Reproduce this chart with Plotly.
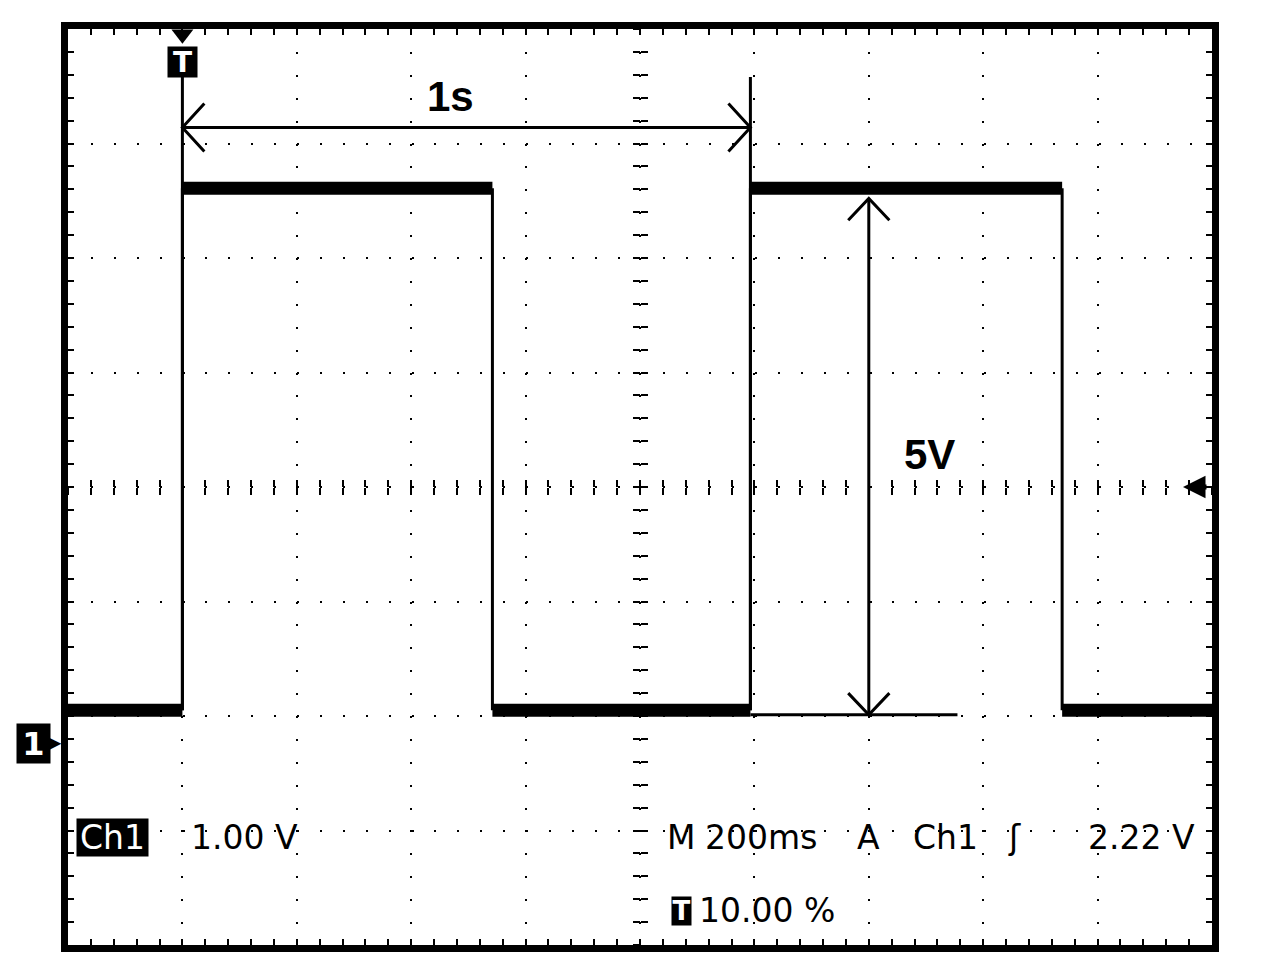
import plotly.graph_objects as go

time_per_div_s = 0.2
volt_per_div = 1.0
trigger_level_v = 2.22
time_window_s = [-0.2, 1.8]
volt_window_v = [trigger_level_v - 4 * volt_per_div, trigger_level_v + 4 * volt_per_div]

edge_times_s = [0.0, 0.542, 0.993, 1.538]
low_level_v = 0.27
high_level_v = 4.83

cursor_times_s = [0.0, 0.993]
cursor_top_v = 5.80
period_arrow_v = 5.36
period_label = "1s"
amp_arrow_t_s = 1.2
amp_arrow_span_v = [0.23, 4.74]
amp_base_end_s = 1.355
amp_label = "5V"

ch_label = "Ch1"
ch_scale_label = "1.00 V"
status_words = ["M", "200ms", "A", "Ch1", "ʃ", "2.22 V"]
trigger_pos_label = "10.00 %"

# ---------------- geometry helpers ----------------
PX_L, PX_R, PX_T, PX_B = 68, 1212, 29, 945
PAGE_OFF = 8  # default body margin


def px(x):
    return (x - PX_L) / (PX_R - PX_L)


def py(y):
    return (PX_B - y) / (PX_B - PX_T)


# waveform levels
bounds = [time_window_s[0]] + edge_times_s + [time_window_s[1]]
seg_x, seg_y = [], []
level = low_level_v
for i in range(len(bounds) - 1):
    seg_x += [bounds[i], bounds[i + 1], None]
    seg_y += [level, level, None]
    level = high_level_v if level == low_level_v else low_level_v

edge_x, edge_y = [], []
for t in edge_times_s:
    edge_x += [t, t, None]
    edge_y += [low_level_v, high_level_v, None]

cur_x, cur_y = [], []
for t in cursor_times_s:
    cur_x += [t, t, None]
    cur_y += [cursor_top_v, low_level_v, None]

# measurement arrows
t0, t1 = cursor_times_s
dxs = 0.0384
dyv = 0.21
meas_x = [t0, t1, None,
          t0 + dxs, t0, t0 + dxs, None,
          t1 - dxs, t1, t1 - dxs, None]
meas_y = [period_arrow_v, period_arrow_v, None,
          period_arrow_v + dyv, period_arrow_v, period_arrow_v - dyv, None,
          period_arrow_v + dyv, period_arrow_v, period_arrow_v - dyv, None]
va, vb = amp_arrow_span_v
dxa = 0.036
dya = 0.19
meas_x += [amp_arrow_t_s, amp_arrow_t_s, None,
           amp_arrow_t_s - dxa, amp_arrow_t_s, amp_arrow_t_s + dxa, None,
           amp_arrow_t_s - dxa, amp_arrow_t_s, amp_arrow_t_s + dxa, None,
           t1, amp_base_end_s, None]
meas_y += [va, vb, None,
           vb - dya, vb, vb - dya, None,
           va + dya, va, va + dya, None,
           va, va, None]

fig = go.Figure()
fig.add_trace(go.Scatter(x=seg_x, y=seg_y, mode="lines",
                         line=dict(color="black", width=13), hoverinfo="skip"))
fig.add_trace(go.Scatter(x=edge_x, y=edge_y, mode="lines",
                         line=dict(color="black", width=3), hoverinfo="skip"))
fig.add_trace(go.Scatter(x=cur_x, y=cur_y, mode="lines",
                         line=dict(color="black", width=3), hoverinfo="skip"))
fig.add_trace(go.Scatter(x=meas_x, y=meas_y, mode="lines",
                         line=dict(color="black", width=3), hoverinfo="skip"))
# trigger position marker (top)
fig.add_trace(go.Scatter(x=[edge_times_s[0]], y=[volt_window_v[1] - 0.045], mode="markers",
                         marker=dict(symbol="triangle-down", size=19, color="black"),
                         cliponaxis=False, hoverinfo="skip"))
# dummy traces for centre crosshair axes
fig.add_trace(go.Scatter(x=[None], y=[None], xaxis="x2", yaxis="y2", showlegend=False))
fig.add_trace(go.Scatter(x=[None], y=[None], xaxis="x3", yaxis="y3", showlegend=False))

common_grid = dict(showgrid=True, gridcolor="black", gridwidth=2, griddash="2px,20.9px",
                   showline=True, linewidth=7, linecolor="black", mirror="allticks",
                   ticks="inside", ticklen=6, tickwidth=2, tickcolor="black",
                   showticklabels=False, zeroline=False, fixedrange=True)

fig.update_layout(
    width=1264 - 2 * PAGE_OFF, height=974 - 2 * PAGE_OFF,
    margin=dict(l=PX_L - PAGE_OFF, r=1264 - PAGE_OFF - PX_R, t=PX_T - PAGE_OFF, b=974 - PAGE_OFF - PX_B),
    paper_bgcolor="white", plot_bgcolor="white", showlegend=False,
    xaxis=dict(range=time_window_s, dtick=time_per_div_s, tick0=time_window_s[0],
               minor=dict(dtick=time_per_div_s / 5, tick0=time_window_s[0], ticks="inside",
                          ticklen=6, tickwidth=2, tickcolor="black", showgrid=False),
               **common_grid),
    yaxis=dict(range=volt_window_v, dtick=volt_per_div, tick0=trigger_level_v,
               minor=dict(dtick=volt_per_div / 5, tick0=trigger_level_v, ticks="inside",
                          ticklen=6, tickwidth=2, tickcolor="black", showgrid=False),
               **common_grid),
)

center_common = dict(showgrid=False, showline=False, zeroline=False, showticklabels=False,
                     ticklen=7, tickwidth=2, tickcolor="black", fixedrange=True)
for name, tk in (("2", "outside"), ("3", "inside")):
    fig.update_layout(**{
        "xaxis" + name: dict(overlaying="x", anchor="free", position=0.5, range=time_window_s,
                             dtick=time_per_div_s / 5, tick0=time_window_s[0], ticks=tk,
                             **center_common),
        "yaxis" + name: dict(overlaying="y", anchor="free", position=0.5, range=volt_window_v,
                             dtick=volt_per_div / 5, tick0=trigger_level_v, ticks=tk,
                             **center_common),
    })

FAM = "DejaVu Sans, sans-serif"
big = dict(family="Liberation Sans, Arial, sans-serif", size=42, color="black")
scope = dict(family=FAM, size=33, color="black")
scope_inv = dict(family=FAM, size=33, color="white")


def txt(x_px, y_px, text, font, xanchor="left", **kw):
    return dict(x=px(x_px), y=py(y_px), xref="paper", yref="paper", xanchor=xanchor,
                yanchor="middle", text=text, showarrow=False, font=font, **kw)


ann = []
ann.append(dict(x=(t0 + t1) / 2 - 0.028, y=5.63, xref="x", yref="y", xanchor="center",
                yanchor="middle", text="<b>%s</b>" % period_label, showarrow=False, font=big))
ann.append(dict(x=1.306, y=2.50, xref="x", yref="y", xanchor="center", yanchor="middle",
                text="<b>%s</b>" % amp_label, showarrow=False, font=big))
# top trigger "T" badge
ann.append(txt(182.5, 62, "<b>T</b>", dict(family=FAM, size=28, color="white"), xanchor="center",
               bgcolor="black", borderpad=0, width=29, height=30))
# channel ground badge + pointer
ann.append(txt(33.5, 743, "<b>1</b>", dict(family=FAM, size=32, color="white"), xanchor="center",
               bgcolor="black", borderpad=0, width=33, height=39))
ann.append(txt(55, 742, "▶", dict(family=FAM, size=16, color="black"), xanchor="center"))
# trigger level arrow
ann.append(dict(x=px(1183), y=trigger_level_v, xref="paper", yref="y", text="", showarrow=True,
                ax=25, ay=0, arrowhead=2, arrowsize=0.9, arrowwidth=5, arrowcolor="black"))
# bottom status texts
ann.append(txt(112.5, 837, ch_label, scope_inv, xanchor="center", bgcolor="black", borderpad=0,
               width=71, height=37))
ann.append(txt(189, 837, ch_scale_label, scope))
for word, xl in zip(status_words, [665, 703, 855, 911, 1006, 1086]):
    ann.append(txt(xl, 837, word, scope))
ann.append(txt(681, 911, "<b>T</b>", dict(family=FAM, size=26, color="white"), xanchor="center",
               bgcolor="black", borderpad=0, width=19, height=28))
ann.append(txt(697, 910, trigger_pos_label, scope))
fig.update_layout(annotations=ann)

fig.write_html("out.html")
